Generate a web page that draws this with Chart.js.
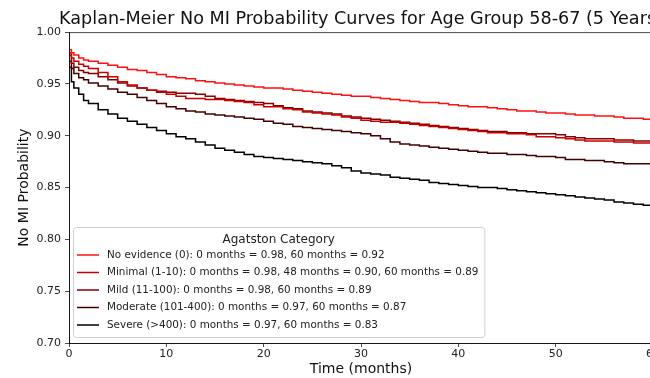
<!DOCTYPE html>
<html lang="en">
<head>
<meta charset="UTF-8">
<title>Kaplan-Meier No MI Probability</title>
<script src="https://cdn.jsdelivr.net/npm/chart.js"></script>
<style>
    html, body { margin: 0; padding: 0; background: #fff; overflow: hidden; }
    #wrap { width: 722px; height: 378px; }
</style>
</head>
<body>
<div id="wrap"><canvas id="km" width="722" height="378"></canvas></div>
<script>
// time points (months)
const months = [0, 0.25, 0.5, 1, 1.5, 2, 3, 4, 5, 6, 7, 8, 9, 10, 11, 12, 13, 14, 15, 16, 17, 18, 19, 20,
    21, 22, 23, 24, 25, 26, 27, 28, 29, 30, 31, 32, 33, 34, 35, 36, 37, 38, 39, 40,
    41, 42, 43, 44, 45, 46, 47, 48, 49, 50, 51, 52, 53, 54, 55, 56, 57, 58, 59, 60];

// survival estimates
const noEvidence = [0.983, 0.980, 0.978, 0.975, 0.973, 0.972, 0.970, 0.968, 0.966, 0.964, 0.963, 0.961, 0.959, 0.957,
    0.956, 0.955, 0.953, 0.952, 0.951, 0.950, 0.949, 0.948, 0.947, 0.946, 0.946, 0.945, 0.944, 0.943, 0.942, 0.941,
    0.940, 0.939, 0.938, 0.938, 0.937, 0.936, 0.935, 0.934, 0.933, 0.932, 0.932, 0.931, 0.930, 0.929, 0.928, 0.928,
    0.927, 0.926, 0.925, 0.924, 0.924, 0.923, 0.922, 0.922, 0.921, 0.920, 0.920, 0.919, 0.919, 0.918, 0.917, 0.917,
    0.916, 0.916];
const minimal = [0.980, 0.975, 0.972, 0.969, 0.967, 0.965, 0.961, 0.957, 0.952, 0.949, 0.946, 0.944, 0.942, 0.940,
    0.938, 0.936, 0.936, 0.935, 0.935, 0.934, 0.933, 0.932, 0.930, 0.928, 0.928, 0.926, 0.925, 0.923, 0.922, 0.921,
    0.920, 0.918, 0.917, 0.915, 0.914, 0.913, 0.913, 0.912, 0.911, 0.910, 0.909, 0.908, 0.907, 0.906, 0.905, 0.904,
    0.903, 0.903, 0.902, 0.902, 0.901, 0.899, 0.899, 0.898, 0.897, 0.896, 0.895, 0.895, 0.895, 0.894, 0.894, 0.893,
    0.893, 0.893];
const mild = [0.978, 0.970, 0.966, 0.963, 0.961, 0.960, 0.957, 0.954, 0.951, 0.948, 0.946, 0.944, 0.943, 0.942,
    0.941, 0.941, 0.940, 0.938, 0.936, 0.935, 0.934, 0.933, 0.932, 0.931, 0.929, 0.927, 0.926, 0.924, 0.923, 0.922,
    0.921, 0.919, 0.918, 0.917, 0.916, 0.915, 0.914, 0.913, 0.912, 0.911, 0.910, 0.909, 0.908, 0.907, 0.906, 0.905,
    0.904, 0.904, 0.903, 0.903, 0.902, 0.902, 0.902, 0.901, 0.899, 0.898, 0.897, 0.897, 0.897, 0.896, 0.896, 0.895,
    0.895, 0.895];
const moderate = [0.972, 0.965, 0.960, 0.956, 0.954, 0.951, 0.948, 0.945, 0.942, 0.940, 0.937, 0.934, 0.931, 0.928,
    0.926, 0.924, 0.923, 0.921, 0.920, 0.919, 0.918, 0.917, 0.916, 0.914, 0.912, 0.911, 0.909, 0.908, 0.907, 0.906,
    0.905, 0.904, 0.903, 0.902, 0.900, 0.897, 0.894, 0.892, 0.891, 0.890, 0.889, 0.888, 0.887, 0.886, 0.885, 0.884,
    0.883, 0.883, 0.882, 0.882, 0.881, 0.880, 0.880, 0.879, 0.877, 0.877, 0.876, 0.876, 0.875, 0.874, 0.873, 0.873,
    0.873, 0.873];
const severe = [0.966, 0.952, 0.946, 0.940, 0.934, 0.931, 0.925, 0.921, 0.917, 0.914, 0.911, 0.908, 0.905, 0.902,
    0.899, 0.897, 0.894, 0.891, 0.888, 0.886, 0.884, 0.882, 0.880, 0.879, 0.878, 0.877, 0.876, 0.875, 0.874, 0.873,
    0.871, 0.869, 0.866, 0.864, 0.863, 0.862, 0.860, 0.859, 0.858, 0.857, 0.855, 0.854, 0.853, 0.852, 0.851, 0.850,
    0.850, 0.849, 0.848, 0.847, 0.846, 0.845, 0.844, 0.843, 0.842, 0.841, 0.840, 0.839, 0.838, 0.836, 0.835, 0.834,
    0.833, 0.832];

const seriesLabels = [
    'No evidence (0): 0 months = 0.98, 60 months = 0.92',
    'Minimal (1-10): 0 months = 0.98, 48 months = 0.90, 60 months = 0.89',
    'Mild (11-100): 0 months = 0.98, 60 months = 0.89',
    'Moderate (101-400): 0 months = 0.97, 60 months = 0.87',
    'Severe (>400): 0 months = 0.97, 60 months = 0.83'
];
const seriesColors = ['#ff1010', '#c80000', '#870000', '#420000', '#000000'];
const seriesValues = [noEvidence, minimal, mild, moderate, severe];

const FONT = "'DejaVu Sans', sans-serif";
const AXIS = 'rgba(0,0,0,0.7)';

// box around the plot (matplotlib spines)
const framePlugin = {
    id: 'frame',
    afterDatasetsDraw(chart) {
        const a = chart.chartArea;
        const ctx = chart.ctx;
        ctx.save();
        ctx.strokeStyle = AXIS;
        ctx.lineWidth = 1;
        ctx.strokeRect(a.left + 0.5, a.top + 0.5, a.right - a.left, a.bottom - a.top);
        ctx.restore();
    }
};

// legend drawn inside the plot, lower left
const legendPlugin = {
    id: 'boxLegend',
    afterDraw(chart) {
        const a = chart.chartArea;
        const ctx = chart.ctx;
        const sets = chart.data.datasets;
        ctx.save();
        ctx.font = '10.4px ' + FONT;
        let tw = 0;
        sets.forEach(d => { tw = Math.max(tw, ctx.measureText(d.label).width); });
        const x0 = a.left + 4;
        const w = tw + 40;
        const bottom = a.bottom - 6;
        const h = 110;
        const top = bottom - h;

        ctx.fillStyle = 'rgba(255,255,255,0.8)';
        ctx.strokeStyle = '#d0d0d0';
        ctx.lineWidth = 1;
        ctx.beginPath();
        ctx.roundRect(x0 + 0.5, top + 0.5, w, h, 3);
        ctx.fill();
        ctx.stroke();

        ctx.fillStyle = '#222';
        ctx.textBaseline = 'middle';
        ctx.textAlign = 'center';
        ctx.font = '12px ' + FONT;
        ctx.fillText('Agatston Category', x0 + w / 2, top + 13);

        ctx.textAlign = 'left';
        ctx.font = '10.4px ' + FONT;
        sets.forEach((d, i) => {
            const y = top + 28 + i * 17.5;
            ctx.strokeStyle = d.borderColor;
            ctx.lineWidth = 1.5;
            ctx.beginPath();
            ctx.moveTo(x0 + 4, y);
            ctx.lineTo(x0 + 26, y);
            ctx.stroke();
            ctx.fillStyle = '#222';
            ctx.fillText(d.label, x0 + 34, y);
        });
        ctx.restore();
    }
};

new Chart(document.getElementById('km').getContext('2d'), {
    type: 'line',
    data: {
        datasets: seriesValues.map((vals, i) => ({
            label: seriesLabels[i],
            data: months.map((m, j) => ({ x: m, y: vals[j] })),
            borderColor: seriesColors[i],
            backgroundColor: seriesColors[i],
            borderWidth: 1.5,
            pointRadius: 0,
            stepped: true,
            fill: false
        }))
    },
    options: {
        responsive: false,
        animation: false,
        layout: { padding: 0 },
        plugins: {
            legend: { display: false },
            tooltip: { enabled: false },
            title: {
                display: true,
                text: 'Kaplan-Meier No MI Probability Curves for Age Group 58-67 (5 Years)',
                color: '#111',
                font: { family: FONT, size: 17.6, weight: 'normal' },
                padding: { top: 9, bottom: 2 }
            }
        },
        scales: {
            x: {
                type: 'linear',
                min: 0,
                max: 60,
                afterFit: s => { s.height = 35; },
                ticks: { stepSize: 10, color: '#222', font: { family: FONT, size: 11 }, padding: 1, maxRotation: 0 },
                grid: { drawOnChartArea: false, drawTicks: true, tickLength: 4, color: AXIS },
                border: { display: true, color: AXIS },
                title: { display: true, text: 'Time (months)', color: '#111', font: { family: FONT, size: 14 }, padding: { top: 0, bottom: 0 } }
            },
            y: {
                min: 0.70,
                max: 1.00,
                afterFit: s => { s.width = 69; },
                ticks: {
                    stepSize: 0.05,
                    color: '#222',
                    font: { family: FONT, size: 11 },
                    padding: 4,
                    callback: v => v.toFixed(2)
                },
                grid: { drawOnChartArea: false, drawTicks: true, tickLength: 4, color: AXIS },
                border: { display: true, color: AXIS },
                title: { display: true, text: 'No MI Probability', color: '#111', font: { family: FONT, size: 14 }, padding: { top: 16, bottom: 0 } }
            },
            // empty right-hand space so the plot ends where the reference crop cuts it
            spacer: {
                type: 'linear',
                position: 'right',
                display: true,
                afterFit: s => { s.width = 69; },
                ticks: { display: false },
                grid: { display: false },
                border: { display: false }
            }
        }
    },
    plugins: [framePlugin, legendPlugin]
});
</script>
</body>
</html>
